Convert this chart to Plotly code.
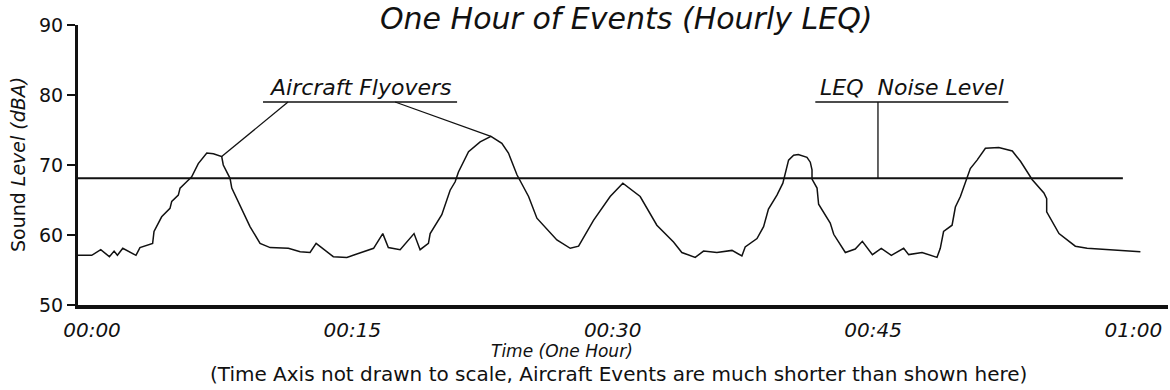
import plotly.graph_objects as go

# Sound level trace over one hour (minutes from start, dBA)
minutes = [0.0, 0.79, 1.31, 1.81, 2.08, 2.27, 2.58, 3.00, 3.34, 3.57,
           4.30, 4.38, 4.82, 5.30, 5.40, 5.78, 5.88, 6.26, 6.55, 6.93,
           7.42, 7.80, 8.28, 8.37, 8.76, 8.86, 9.43, 9.91, 10.49, 11.07,
           12.12, 12.80, 13.37, 13.72, 14.71, 15.49, 17.03, 17.56, 17.88, 18.56,
           19.36, 19.71, 20.19, 20.29, 20.96, 21.44, 21.73, 21.92, 22.50, 23.17,
           23.79, 24.42, 24.80, 25.29, 25.96, 26.44, 27.59, 28.36, 28.84, 29.70,
           30.66, 31.39, 32.39, 33.35, 34.31, 34.79, 35.56, 36.04, 36.81, 37.68,
           38.25, 38.44, 39.12, 39.50, 39.78, 40.27, 40.61, 40.75, 40.94, 41.23,
           41.50, 42.00, 42.19, 42.29, 42.29, 42.58, 42.67, 43.34, 43.54, 44.21,
           44.78, 45.19, 45.77, 46.28, 46.86, 47.57, 47.86, 48.63, 49.49, 49.68,
           49.87, 50.36, 50.55, 50.84, 51.22, 51.41, 51.80, 52.28, 53.05, 53.83,
           54.31, 54.98, 55.65, 55.81, 55.81, 56.52, 57.46, 58.14, 61.21]
level_dba = [57.1, 57.1, 57.9, 56.9, 57.7, 57.1, 58.1, 57.6, 57.1, 58.2,
             58.8, 60.5, 62.6, 63.8, 64.8, 65.7, 66.7, 67.6, 68.3, 70.2,
             71.7, 71.6, 71.2, 70.0, 68.1, 66.7, 63.8, 61.2, 58.8, 58.2,
             58.1, 57.6, 57.5, 58.8, 56.9, 56.8, 58.1, 60.2, 58.2, 57.9,
             60.2, 57.9, 58.8, 60.2, 62.9, 66.4, 67.6, 69.0, 71.9, 73.3,
             74.1, 73.1, 71.7, 68.6, 65.5, 62.4, 59.3, 58.1, 58.4, 62.1,
             65.5, 67.4, 65.5, 61.4, 59.0, 57.5, 56.8, 57.7, 57.5, 57.8,
             57.0, 58.3, 59.5, 61.2, 63.7, 65.7, 67.4, 68.8, 70.7, 71.4,
             71.5, 71.1, 70.4, 69.3, 68.0, 66.7, 64.4, 61.7, 60.1, 57.5,
             58.0, 59.1, 57.2, 58.1, 57.1, 58.1, 57.2, 57.5, 56.8, 58.1,
             60.5, 61.4, 64.0, 65.5, 68.3, 69.5, 70.7, 72.4, 72.5, 72.0,
             70.5, 67.9, 66.0, 65.2, 63.3, 60.2, 58.4, 58.1, 57.6]

# Hourly equivalent level
leq_level = 68.1
leq_span = [0.0, 60.2]

tick_minutes = [0, 15, 30, 45, 60]
tick_labels = ["00:00", "00:15", "00:30", "00:45", "01:00"]
y_ticks = [50, 60, 70, 80, 90]

# indices of the two flyovers the callout points at
flyover_points = [22, 50]

FONT = "DejaVu Sans"
INK = "#111111"

fig = go.Figure()
fig.add_trace(go.Scatter(x=minutes, y=level_dba, mode="lines",
                         line=dict(color=INK, width=1.5), hoverinfo="skip"))
fig.add_trace(go.Scatter(x=leq_span, y=[leq_level, leq_level], mode="lines",
                         line=dict(color=INK, width=2), hoverinfo="skip"))

label_y = 79.0
# "Aircraft Flyovers" callout: underline plus leaders to two peaks
fig.add_shape(type="line", x0=10.66, x1=21.84, y0=label_y, y1=label_y,
              line=dict(color=INK, width=1.5))
for start_x, idx in zip([12.1, 18.27], flyover_points):
    fig.add_shape(type="line", x0=start_x, y0=label_y,
                  x1=minutes[idx], y1=level_dba[idx],
                  line=dict(color=INK, width=1.3))
fig.add_annotation(x=16.25, y=label_y, yanchor="bottom", yshift=0,
                   text="<i>Aircraft Flyovers</i>", showarrow=False,
                   font=dict(family=FONT, size=22, color=INK))

# "LEQ Noise Level" callout
fig.add_shape(type="line", x0=42.48, x1=53.6, y0=label_y, y1=label_y,
              line=dict(color=INK, width=1.5))
fig.add_shape(type="line", x0=46.09, x1=46.09, y0=label_y, y1=leq_level,
              line=dict(color=INK, width=1.3))
fig.add_annotation(x=48.04, y=label_y, yanchor="bottom", yshift=0,
                   text="<i>LEQ&nbsp; Noise Level</i>", showarrow=False,
                   font=dict(family=FONT, size=22, color=INK))

# axis titles and footnote
fig.add_annotation(xref="paper", yref="paper", x=0.444, y=-0.164,
                   yanchor="middle", text="<i>Time (One Hour)</i>",
                   showarrow=False, font=dict(family=FONT, size=17, color=INK))
fig.add_annotation(xref="paper", yref="paper", x=0.496, y=-0.246,
                   yanchor="middle",
                   text="(Time Axis not drawn to scale, Aircraft Events are much shorter than shown here)",
                   showarrow=False, font=dict(family=FONT, size=20, color=INK))
fig.add_annotation(xref="paper", yref="paper", x=-0.055, y=0.5,
                   xanchor="center", yanchor="middle", textangle=-90,
                   text="Sound <i>Level (dBA)</i>", showarrow=False,
                   font=dict(family=FONT, size=19, color=INK))

fig.update_layout(
    width=1170, height=390,
    margin=dict(l=78, r=2, t=25, b=85),
    paper_bgcolor="white", plot_bgcolor="white",
    showlegend=False,
    title=dict(text="<i>One Hour of Events (Hourly LEQ)</i>",
               x=0.503, xref="paper", xanchor="center",
               y=0.953, yref="container", yanchor="middle",
               font=dict(family=FONT, size=30, color=INK)),
)
fig.update_xaxes(range=[0, 62.8], tickvals=tick_minutes, ticktext=tick_labels,
                 showgrid=False, zeroline=False, showline=True,
                 linecolor=INK, linewidth=4, ticks="", ticklabelshift=14,
                 ticklabelstandoff=4,
                 tickfont=dict(family=FONT, size=20, color=INK, style="italic"))
fig.update_yaxes(range=[50, 90], tickvals=y_ticks, showgrid=False,
                 zeroline=False, showline=True, linecolor=INK, linewidth=3,
                 ticks="outside", ticklen=8, tickwidth=2, tickcolor=INK,
                 tickfont=dict(family=FONT, size=19, color=INK))

fig.write_html("out.html")
